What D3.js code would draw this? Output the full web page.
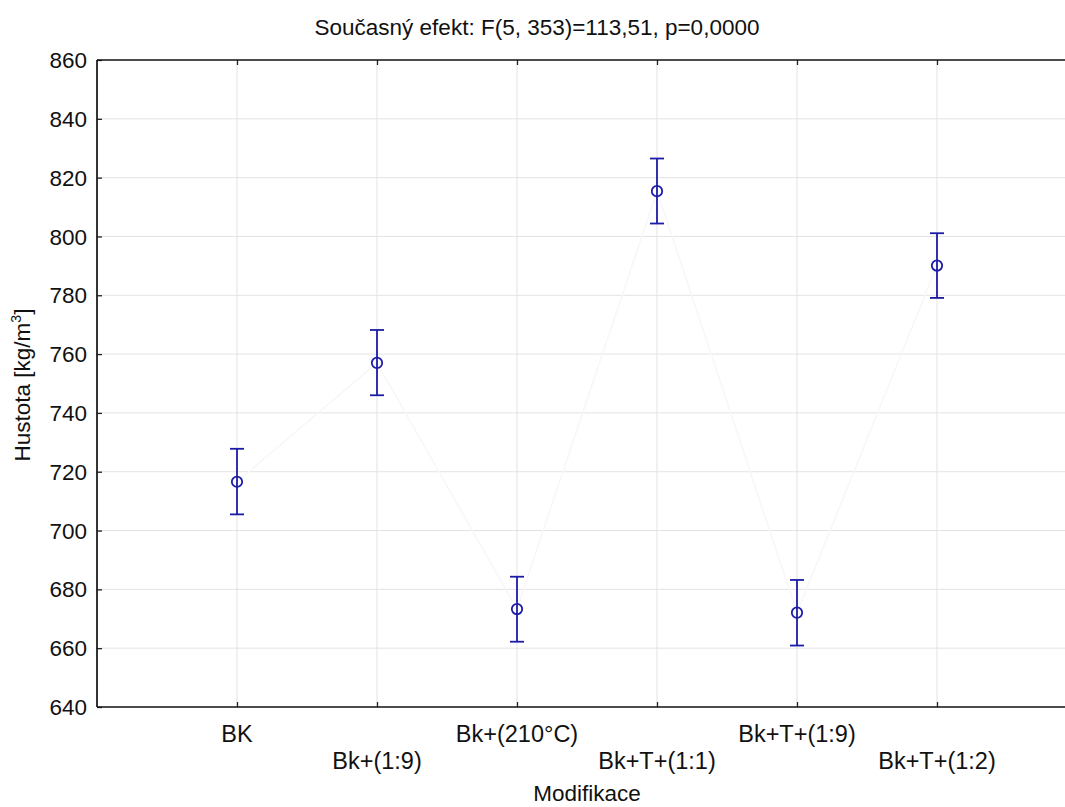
<!DOCTYPE html>
<html><head><meta charset="utf-8">
<script src="https://cdn.jsdelivr.net/npm/d3@7"></script>
<style>body{margin:0;background:#fff}svg{display:block}text{font-family:"Liberation Sans",Arial,sans-serif;fill:#111}</style>
</head><body>
<script>
const categories = ["BK","Bk+(1:9)","Bk+(210°C)","Bk+T+(1:1)","Bk+T+(1:9)","Bk+T+(1:2)"];
const means = [716.6, 757.0, 673.3, 815.4, 672.1, 790.1];
const upper = [727.8, 768.2, 684.3, 826.5, 683.2, 801.1];
const lower = [705.5, 746.0, 662.2, 804.4, 660.9, 779.1];
const yTicks = [640,660,680,700,720,740,760,780,800,820,840,860];
const title = "Současný efekt: F(5, 353)=113,51, p=0,0000";
const xTitle = "Modifikace";

(function () {
const W = 1065, H = 807;
const pL = 97, pT = 60, pB = 707, pR = 1077;
const svg = d3.select("body").append("svg").attr("width", W).attr("height", H);

const x = d3.scalePoint().domain(categories).range([pL, pR]).padding(1);
const y = d3.scaleLinear().domain([640, 860]).range([pB, pT]);

// grid
const g = svg.append("g");
g.selectAll("line.hg").data(yTicks.slice(1, -1)).join("line").attr("class", "hg")
  .attr("x1", pL).attr("x2", pR).attr("y1", d => y(d)).attr("y2", d => y(d))
  .attr("stroke", "#e3e3e3").attr("stroke-width", 1);
g.selectAll("line.vg").data(categories).join("line").attr("class", "vg")
  .attr("x1", d => x(d)).attr("x2", d => x(d)).attr("y1", pT).attr("y2", pB)
  .attr("stroke", "#e3e3e3").attr("stroke-width", 1);

// faint connecting line
svg.append("path").datum(means.map((m, i) => [x(categories[i]), y(m)]))
  .attr("d", d3.line()).attr("fill", "none").attr("stroke", "#f7f7f7").attr("stroke-width", 1.5);

// axes
const yAxis = svg.append("g").attr("transform", `translate(${pL},0)`)
  .call(d3.axisRight(y).tickValues(yTicks).tickSize(5).tickFormat(""));
yAxis.select(".domain").remove();
svg.selectAll("text.yl").data(yTicks).join("text").attr("class", "yl")
  .attr("x", pL - 10).attr("y", d => y(d)).attr("dy", "0.36em")
  .attr("text-anchor", "end").style("font-size", "22.5px").text(d => d);

const xb = svg.append("g").attr("transform", `translate(0,${pB})`)
  .call(d3.axisTop(x).tickSize(5).tickFormat(""));
xb.select(".domain").remove();
const xt = svg.append("g").attr("transform", `translate(0,${pT})`)
  .call(d3.axisBottom(x).tickSize(5).tickFormat(""));
xt.select(".domain").remove();
svg.selectAll(".tick line").attr("stroke", "#222").attr("stroke-width", 1.3);

svg.selectAll("text.xl").data(categories).join("text").attr("class", "xl")
  .attr("x", d => x(d)).attr("y", (d, i) => i % 2 === 0 ? 742 : 769)
  .attr("text-anchor", "middle").style("font-size", "23.5px").text(d => d);

// frame lines
const fr = [[pL, pT, pL, pB], [pL, pB, pR, pB], [pL, pT, pR, pT], [pR, pT, pR, pB]];
svg.selectAll("line.fr").data(fr).join("line").attr("class", "fr")
  .attr("x1", d => d[0]).attr("y1", d => d[1]).attr("x2", d => d[2]).attr("y2", d => d[3])
  .attr("stroke", "#111").attr("stroke-width", 1.7);

// error bars
const col = "#1c1ca8";
const eb = svg.append("g");
categories.forEach((c, i) => {
  const cx = x(c);
  eb.append("line").attr("x1", cx).attr("x2", cx).attr("y1", y(upper[i])).attr("y2", y(lower[i])).attr("stroke", col).attr("stroke-width", 1.8);
  [upper[i], lower[i]].forEach(v => eb.append("line").attr("x1", cx - 7).attr("x2", cx + 7).attr("y1", y(v)).attr("y2", y(v)).attr("stroke", col).attr("stroke-width", 1.8));
  eb.append("circle").attr("cx", cx).attr("cy", y(means[i])).attr("r", 5.2).attr("fill", "none").attr("stroke", col).attr("stroke-width", 1.8);
});

// titles
svg.append("text").attr("x", 537).attr("y", 35).attr("text-anchor", "middle").style("font-size", "22.5px").text(title);
svg.append("text").attr("x", 587).attr("y", 801).attr("text-anchor", "middle").style("font-size", "22.5px").text(xTitle);
const yl = svg.append("text").attr("transform", "translate(30,385) rotate(-90)").attr("text-anchor", "middle").style("font-size", "22.5px");
yl.append("tspan").text("Hustota [kg/m");
yl.append("tspan").attr("dy", -9).style("font-size", "14px").text("3");
yl.append("tspan").attr("dy", 9).text("]");
})();
</script>
</body></html>
